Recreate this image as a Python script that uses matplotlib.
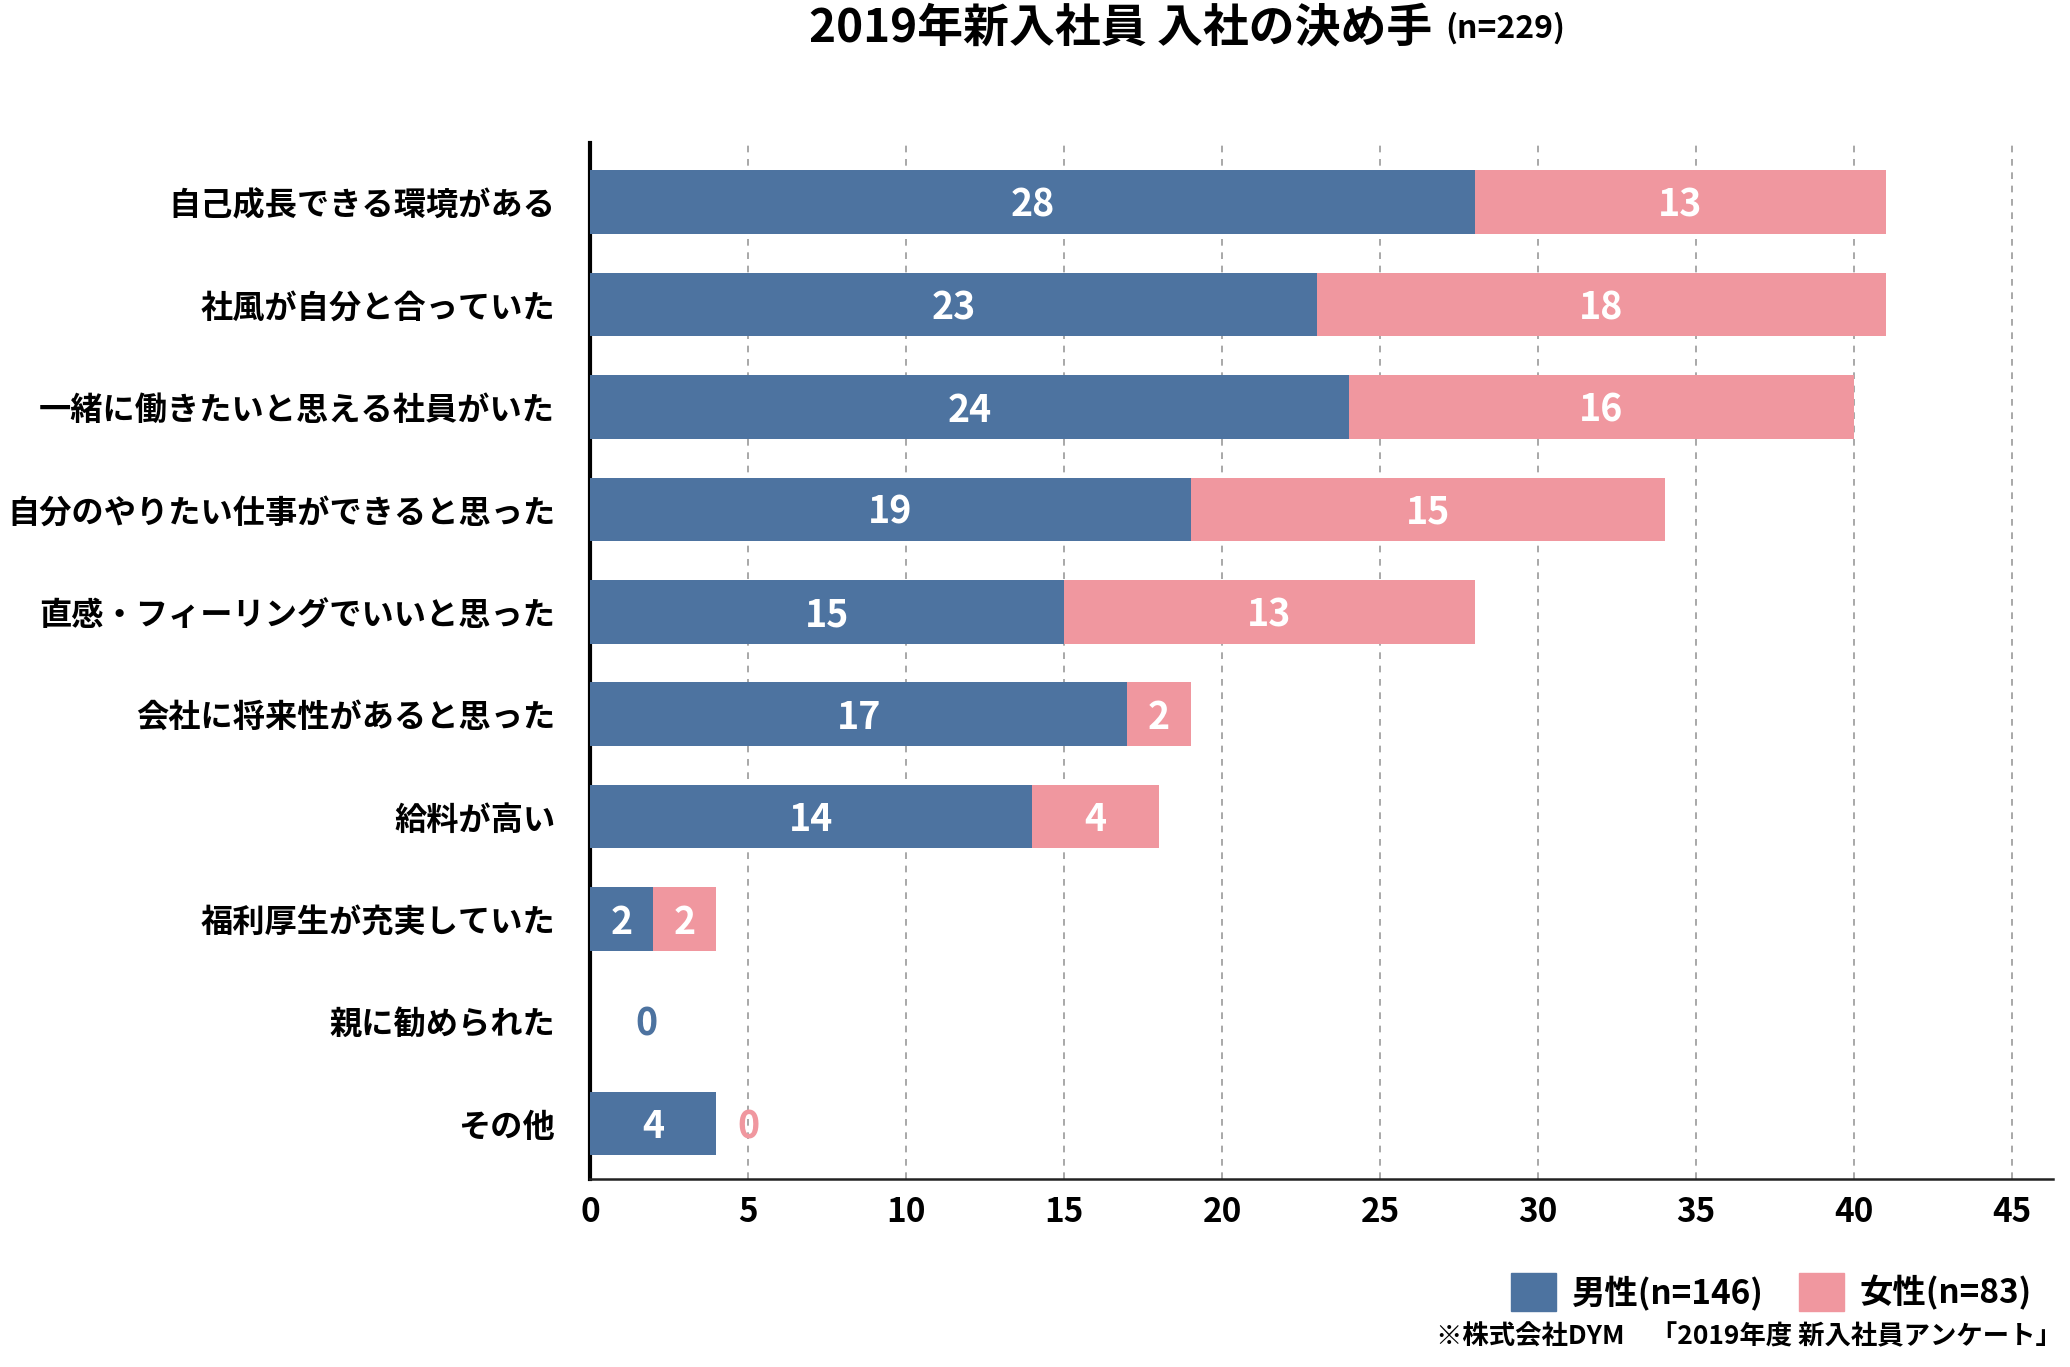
import numpy as np
import matplotlib
matplotlib.use("Agg")
import matplotlib.pyplot as plt
from matplotlib.patches import Patch

plt.rcParams['font.family'] = ['Noto Sans CJK JP', 'DejaVu Sans']
plt.rcParams['font.weight'] = 'bold'

categories = ["自己成長できる環境がある", "社風が自分と合っていた", "一緒に働きたいと思える社員がいた",
              "自分のやりたい仕事ができると思った", "直感・フィーリングでいいと思った",
              "会社に将来性があると思った", "給料が高い", "福利厚生が充実していた",
              "親に勧められた", "その他"]
male = [28, 23, 24, 19, 15, 17, 14, 2, 0, 4]
female = [13, 18, 16, 15, 13, 2, 4, 2, 0, 0]
xticks = [0, 5, 10, 15, 20, 25, 30, 35, 40, 45]

blue = "#4d73a0"
pink = "#f0979f"

fig = plt.figure(figsize=(20.7, 13.67), dpi=100)
ax = fig.add_axes([0.285, 0.1375, 0.707, 0.758])

y = np.arange(len(categories))
male = np.array(male)
female = np.array(female)

ax.barh(y, male, height=0.62, color=blue, zorder=3)
ax.barh(y, female, left=male, height=0.62, color=pink, zorder=3)

ty = 0.03  # numbers sit a touch below the bar centre
for i in range(len(categories)):
    if male[i] > 0:
        ax.text(male[i] / 2, y[i] + ty, str(male[i]), ha='center', va='center',
                color='white', fontsize=27, zorder=4)
    else:
        ax.text(male[i] + 1.8, y[i] + ty, "0", ha='center', va='center',
                color=blue, fontsize=27, zorder=4)
    if female[i] > 0:
        ax.text(male[i] + female[i] / 2, y[i] + ty, str(female[i]), ha='center',
                va='center', color='white', fontsize=27, zorder=4)
    elif male[i] > 0:
        ax.text(male[i] + 1.0, y[i] + ty, "0", ha='center', va='center',
                color=pink, fontsize=27, zorder=4)

ax.set_xlim(0, 46.3)
ax.set_ylim(9.54, -0.58)
ax.set_yticks(y)
ax.set_yticklabels(categories, fontsize=23.2)
ax.set_xticks(xticks)
ax.set_xticklabels([str(t) for t in xticks], fontsize=24)
ax.tick_params(axis='y', length=0, pad=25)
ax.tick_params(axis='x', length=0, pad=12)

for t in xticks[1:]:
    ax.axvline(t, color='#999999', linestyle=(0, (4, 4)), linewidth=1.2, zorder=1)

for s in ['top', 'right']:
    ax.spines[s].set_visible(False)
ax.spines['left'].set_linewidth(3)
ax.spines['left'].set_color('black')
ax.spines['bottom'].set_linewidth(1.8)
ax.spines['bottom'].set_color('#222222')

fig.text(0.692, 0.979, "2019年新入社員 入社の決め手", ha='right', va='center', fontsize=33)
fig.text(0.698, 0.979, "(n=229)", ha='left', va='center', fontsize=23)

handles = [Patch(color=blue, label="男性(n=146)"), Patch(color=pink, label="女性(n=83)")]
fig.legend(handles=handles, loc='center right', bbox_to_anchor=(0.996, 0.055), ncol=2,
           frameon=False, fontsize=24, handlelength=1.35, handleheight=1.4,
           handletextpad=0.45, columnspacing=1.1)

fig.text(0.996, 0.012, "※株式会社DYM　「2019年度 新入社員アンケート」", ha='right', va='bottom', fontsize=19)

fig.savefig("out.png", dpi=100, facecolor='white')
